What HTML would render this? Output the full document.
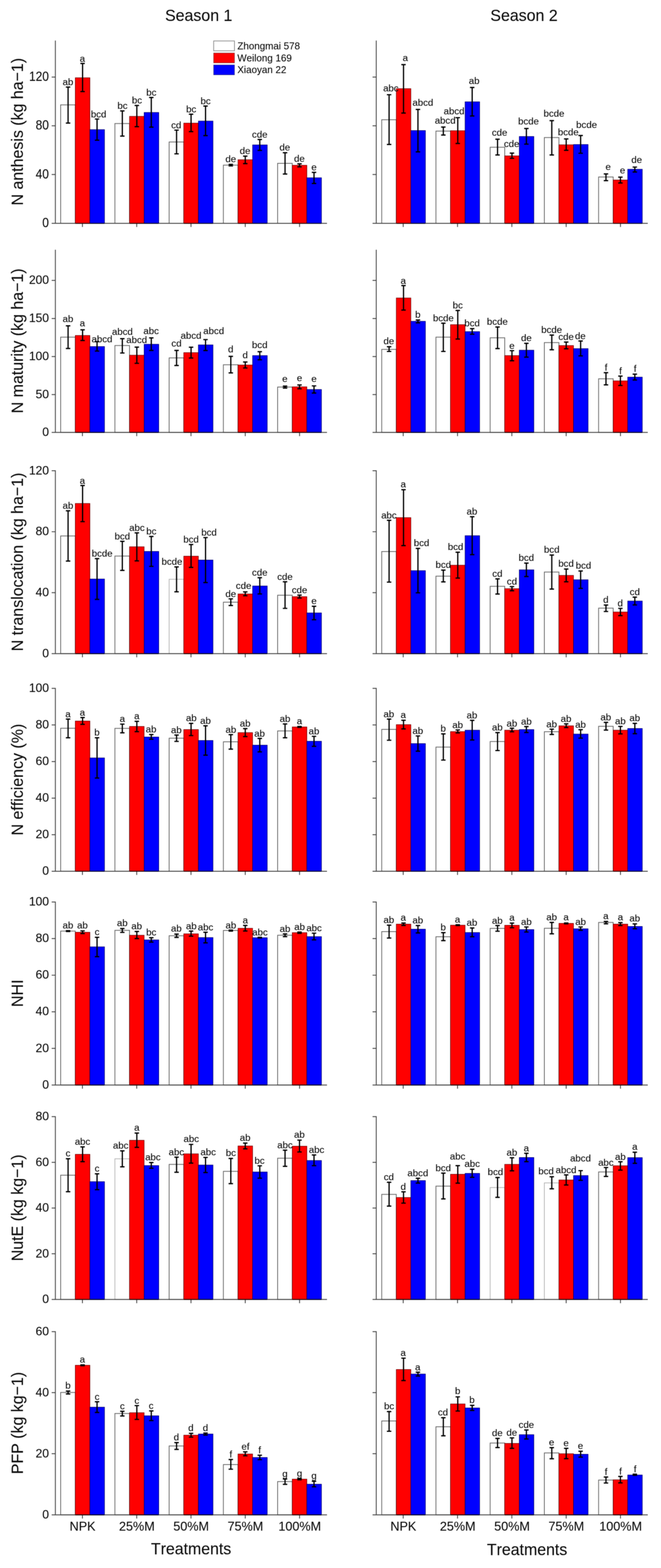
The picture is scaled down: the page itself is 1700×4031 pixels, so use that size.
<!DOCTYPE html>
<html lang="en"><head><meta charset="utf-8"><title>Figure</title>
<style>html,body{margin:0;padding:0;background:#fff}svg{display:block}text{font-variant-ligatures:none;font-kerning:none}</style></head>
<body>
<svg width="1700" height="4031" viewBox="0 0 1700 4031" font-family='"Liberation Sans", Arial, sans-serif' fill="#0c0c0c" stroke="#0c0c0c">
<defs><filter id="soft" x="0" y="0" width="1700" height="4031" filterUnits="userSpaceOnUse" color-interpolation-filters="sRGB"><feConvolveMatrix order="3" kernelMatrix="1 2 1 2 4 2 1 2 1" edgeMode="duplicate" preserveAlpha="true"/></filter></defs>
<g filter="url(#soft)">
<rect width="1700" height="4031" fill="#fff" stroke="none"/>
<g id="p00">
<rect x="156" y="269.6" width="37.6" height="304.5" fill="#ffffff" stroke="#606060" stroke-width="1.9"/>
<rect x="193.6" y="199.9" width="37.6" height="374.2" fill="#ff0000" stroke="#6a0000" stroke-width="1.3"/>
<rect x="231.2" y="333.2" width="37.6" height="240.9" fill="#0000ff" stroke="#00006a" stroke-width="1.3"/>
<rect x="295.5" y="317.6" width="37.6" height="256.5" fill="#ffffff" stroke="#606060" stroke-width="1.9"/>
<rect x="333.1" y="299.1" width="37.6" height="275" fill="#ff0000" stroke="#6a0000" stroke-width="1.3"/>
<rect x="370.7" y="289.1" width="37.6" height="285" fill="#0000ff" stroke="#00006a" stroke-width="1.3"/>
<rect x="435" y="365" width="37.6" height="209.1" fill="#ffffff" stroke="#606060" stroke-width="1.9"/>
<rect x="472.6" y="316.5" width="37.6" height="257.6" fill="#ff0000" stroke="#6a0000" stroke-width="1.3"/>
<rect x="510.2" y="311.2" width="37.6" height="262.9" fill="#0000ff" stroke="#00006a" stroke-width="1.3"/>
<rect x="574.5" y="424.5" width="37.6" height="149.6" fill="#ffffff" stroke="#606060" stroke-width="1.9"/>
<rect x="612.1" y="410.6" width="37.6" height="163.5" fill="#ff0000" stroke="#6a0000" stroke-width="1.3"/>
<rect x="649.7" y="372.5" width="37.6" height="201.6" fill="#0000ff" stroke="#00006a" stroke-width="1.3"/>
<rect x="714" y="419.9" width="37.6" height="154.2" fill="#ffffff" stroke="#606060" stroke-width="1.9"/>
<rect x="751.6" y="424.9" width="37.6" height="149.2" fill="#ff0000" stroke="#6a0000" stroke-width="1.3"/>
<rect x="789.2" y="457" width="37.6" height="117.1" fill="#0000ff" stroke="#00006a" stroke-width="1.3"/>
<path d="M175.1 223.8V316.3M169.4 223.8H180.8M169.4 316.3H180.8M212.4 163.1V235.4M206.7 163.1H218.1M206.7 235.4H218.1M249.6 306V360.4M243.9 306H255.3M243.9 360.4H255.3M314.6 285.1V349.8M308.9 285.1H320.3M308.9 349.8H320.3M351.9 271.2V325.6M346.2 271.2H357.6M346.2 325.6H357.6M389.1 250.7V326.9M383.4 250.7H394.8M383.4 326.9H394.8M454.1 334.5V395.5M448.4 334.5H459.8M448.4 395.5H459.8M491.4 293.6V338.3M485.7 293.6H497.1M485.7 338.3H497.1M528.6 272.7V348.6M522.9 272.7H534.3M522.9 348.6H534.3M593.6 422.5V426.5M587.9 422.5H599.3M587.9 426.5H599.3M630.8 401.3V420.6M625.1 401.3H636.5M625.1 420.6H636.5M668.1 358.6V386.7M662.4 358.6H673.8M662.4 386.7H673.8M733.1 392.7V447.4M727.4 392.7H738.8M727.4 447.4H738.8M770.3 421.2V428.8M764.6 421.2H776M764.6 428.8H776M807.6 443.1V471.6M801.9 443.1H813.3M801.9 471.6H813.3" stroke="#000" stroke-width="3.2" fill="none"/>
<text transform="translate(174.8 219.1)" font-size="24.7" text-anchor="middle" stroke-width="0.15">ab</text>
<text transform="translate(211.9 158.5)" font-size="24.7" text-anchor="middle" stroke-width="0.15">a</text>
<text transform="translate(253.7 301.7)" font-size="24.7" text-anchor="middle" stroke-width="0.15">bcd</text>
<text transform="translate(315 280.1)" font-size="24.7" text-anchor="middle" stroke-width="0.15">bc</text>
<text transform="translate(352.2 266.2)" font-size="24.7" text-anchor="middle" stroke-width="0.15">bc</text>
<text transform="translate(389.3 245.7)" font-size="24.7" text-anchor="middle" stroke-width="0.15">bc</text>
<text transform="translate(453.3 329.5)" font-size="24.7" text-anchor="middle" stroke-width="0.15">cd</text>
<text transform="translate(491.9 288.9)" font-size="24.7" text-anchor="middle" stroke-width="0.15">bc</text>
<text transform="translate(528.7 268)" font-size="24.7" text-anchor="middle" stroke-width="0.15">bc</text>
<text transform="translate(593.4 417.2)" font-size="24.7" text-anchor="middle" stroke-width="0.15">de</text>
<text transform="translate(630.2 396)" font-size="24.7" text-anchor="middle" stroke-width="0.15">de</text>
<text transform="translate(668 353.6)" font-size="24.7" text-anchor="middle" stroke-width="0.15">cde</text>
<text transform="translate(732.6 387)" font-size="24.7" text-anchor="middle" stroke-width="0.15">de</text>
<text transform="translate(770.1 415.5)" font-size="24.7" text-anchor="middle" stroke-width="0.15">de</text>
<text transform="translate(807.5 437.8)" font-size="24.7" text-anchor="middle" stroke-width="0.15">e</text>
<path d="M142.4 104.2V574.1M132.9 574.1H841M132.9 448.7H142.4M132.9 323.4H142.4M132.9 198.1H142.4M212 574.1v9.5M351.6 574.1v9.5M491.2 574.1v9.5M630.8 574.1v9.5M770.4 574.1v9.5" stroke="#424242" stroke-width="2.2" fill="none"/>
<path d="M193.6 574.1h37.6M333.1 574.1h37.6M472.6 574.1h37.6M612.1 574.1h37.6M751.6 574.1h37.6" stroke="#300000" stroke-width="2.2" fill="none"/>
<path d="M231.2 574.1h37.6M370.7 574.1h37.6M510.2 574.1h37.6M649.7 574.1h37.6M789.2 574.1h37.6" stroke="#000030" stroke-width="2.2" fill="none"/>
<text transform="translate(125.6 584.1) scale(1 1.14)" font-size="30.5" text-anchor="end" stroke-width="0.15">0</text>
<text transform="translate(125.6 458.7) scale(1 1.14)" font-size="30.5" text-anchor="end" stroke-width="0.15">40</text>
<text transform="translate(125.6 333.4) scale(1 1.14)" font-size="30.5" text-anchor="end" stroke-width="0.15">80</text>
<text transform="translate(125.6 208.1) scale(1 1.14)" font-size="30.5" text-anchor="end" stroke-width="0.15">120</text>
<text transform="translate(59.4 338.6) rotate(-90) scale(1 1.037)" font-size="41" text-anchor="middle" stroke-width="0.15">N anthesis (kg ha−1)</text>
</g>
<g id="p01">
<rect x="981.7" y="307.8" width="37.5" height="266.3" fill="#ffffff" stroke="#606060" stroke-width="1.9"/>
<rect x="1019.2" y="227.9" width="37.5" height="346.2" fill="#ff0000" stroke="#6a0000" stroke-width="1.3"/>
<rect x="1056.6" y="335.6" width="37.5" height="238.5" fill="#0000ff" stroke="#00006a" stroke-width="1.3"/>
<rect x="1121.2" y="337" width="37.5" height="237.1" fill="#ffffff" stroke="#606060" stroke-width="1.9"/>
<rect x="1158.6" y="336" width="37.5" height="238.1" fill="#ff0000" stroke="#6a0000" stroke-width="1.3"/>
<rect x="1196.1" y="261.7" width="37.5" height="312.4" fill="#0000ff" stroke="#00006a" stroke-width="1.3"/>
<rect x="1260.6" y="378.5" width="37.5" height="195.6" fill="#ffffff" stroke="#606060" stroke-width="1.9"/>
<rect x="1298" y="400.7" width="37.5" height="173.4" fill="#ff0000" stroke="#6a0000" stroke-width="1.3"/>
<rect x="1335.5" y="350.9" width="37.5" height="223.2" fill="#0000ff" stroke="#00006a" stroke-width="1.3"/>
<rect x="1400" y="353.6" width="37.5" height="220.5" fill="#ffffff" stroke="#606060" stroke-width="1.9"/>
<rect x="1437.5" y="372.2" width="37.5" height="201.9" fill="#ff0000" stroke="#6a0000" stroke-width="1.3"/>
<rect x="1475" y="371.5" width="37.5" height="202.6" fill="#0000ff" stroke="#00006a" stroke-width="1.3"/>
<rect x="1539.5" y="455" width="37.5" height="119.1" fill="#ffffff" stroke="#606060" stroke-width="1.9"/>
<rect x="1577" y="462.7" width="37.5" height="111.4" fill="#ff0000" stroke="#6a0000" stroke-width="1.3"/>
<rect x="1614.4" y="435.1" width="37.5" height="139" fill="#0000ff" stroke="#00006a" stroke-width="1.3"/>
<path d="M1000.7 243.5V371.4M995 243.5H1006.4M995 371.4H1006.4M1037.8 166.2V290.6M1032.1 166.2H1043.5M1032.1 290.6H1043.5M1074.9 281.3V390.3M1069.2 281.3H1080.6M1069.2 390.3H1080.6M1140.2 326.7V347.2M1134.5 326.7H1145.9M1134.5 347.2H1145.9M1177.3 302.5V368.8M1171.6 302.5H1183M1171.6 368.8H1183M1214.4 224.9V298.2M1208.7 224.9H1220.1M1208.7 298.2H1220.1M1279.6 357.9V398.3M1273.9 357.9H1285.3M1273.9 398.3H1285.3M1316.7 393.7V407M1311 393.7H1322.4M1311 407H1322.4M1353.8 330.4V370.5M1348.1 330.4H1359.5M1348.1 370.5H1359.5M1419.1 310.2V398.3M1413.4 310.2H1424.8M1413.4 398.3H1424.8M1456.2 357.2V386.4M1450.5 357.2H1461.9M1450.5 386.4H1461.9M1493.3 348.3V394M1487.6 348.3H1499M1487.6 394H1499M1558.5 447.1V464.3M1552.8 447.1H1564.2M1552.8 464.3H1564.2M1595.6 455.4V470.3M1589.9 455.4H1601.3M1589.9 470.3H1601.3M1632.7 429.5V442.1M1627 429.5H1638.4M1627 442.1H1638.4" stroke="#000" stroke-width="3.2" fill="none"/>
<text transform="translate(1005.3 234.5)" font-size="24.7" text-anchor="middle" stroke-width="0.15">abc</text>
<text transform="translate(1042.4 156.6)" font-size="24.7" text-anchor="middle" stroke-width="0.15">a</text>
<text transform="translate(1087.5 272)" font-size="24.7" text-anchor="middle" stroke-width="0.15">abcd</text>
<text transform="translate(1144.9 318.4)" font-size="24.7" text-anchor="middle" stroke-width="0.15">abcd</text>
<text transform="translate(1167.7 293.5)" font-size="24.7" text-anchor="middle" stroke-width="0.15">abcd</text>
<text transform="translate(1219.4 215.6)" font-size="24.7" text-anchor="middle" stroke-width="0.15">ab</text>
<text transform="translate(1284.8 348.9)" font-size="24.7" text-anchor="middle" stroke-width="0.15">cde</text>
<text transform="translate(1315.9 378.1)" font-size="24.7" text-anchor="middle" stroke-width="0.15">cde</text>
<text transform="translate(1359.3 320.4)" font-size="24.7" text-anchor="middle" stroke-width="0.15">bcde</text>
<text transform="translate(1424.8 300.2)" font-size="24.7" text-anchor="middle" stroke-width="0.15">bcde</text>
<text transform="translate(1461.5 347.9)" font-size="24.7" text-anchor="middle" stroke-width="0.15">bcde</text>
<text transform="translate(1508.6 329)" font-size="24.7" text-anchor="middle" stroke-width="0.15">bcde</text>
<text transform="translate(1564 437.1)" font-size="24.7" text-anchor="middle" stroke-width="0.15">e</text>
<text transform="translate(1601.1 446)" font-size="24.7" text-anchor="middle" stroke-width="0.15">e</text>
<text transform="translate(1637.6 419.2)" font-size="24.7" text-anchor="middle" stroke-width="0.15">de</text>
<path d="M967.7 104.2V574.1M958.2 574.1H1666M958.2 448.7H967.7M958.2 323.4H967.7M958.2 198.1H967.7M1037 574.1v9.5M1176.7 574.1v9.5M1316.4 574.1v9.5M1456.1 574.1v9.5M1595.8 574.1v9.5" stroke="#424242" stroke-width="2.2" fill="none"/>
<path d="M1019.2 574.1h37.5M1158.6 574.1h37.5M1298 574.1h37.5M1437.5 574.1h37.5M1577 574.1h37.5" stroke="#300000" stroke-width="2.2" fill="none"/>
<path d="M1056.6 574.1h37.5M1196.1 574.1h37.5M1335.5 574.1h37.5M1475 574.1h37.5M1614.4 574.1h37.5" stroke="#000030" stroke-width="2.2" fill="none"/>
</g>
<g id="p10">
<rect x="156" y="866.7" width="37.6" height="245" fill="#ffffff" stroke="#606060" stroke-width="1.9"/>
<rect x="193.6" y="862.4" width="37.6" height="249.3" fill="#ff0000" stroke="#6a0000" stroke-width="1.3"/>
<rect x="231.2" y="890.9" width="37.6" height="220.8" fill="#0000ff" stroke="#00006a" stroke-width="1.3"/>
<rect x="295.5" y="888.3" width="37.6" height="223.4" fill="#ffffff" stroke="#606060" stroke-width="1.9"/>
<rect x="333.1" y="913.1" width="37.6" height="198.6" fill="#ff0000" stroke="#6a0000" stroke-width="1.3"/>
<rect x="370.7" y="885" width="37.6" height="226.7" fill="#0000ff" stroke="#00006a" stroke-width="1.3"/>
<rect x="435" y="920.1" width="37.6" height="191.6" fill="#ffffff" stroke="#606060" stroke-width="1.9"/>
<rect x="472.6" y="906.5" width="37.6" height="205.2" fill="#ff0000" stroke="#6a0000" stroke-width="1.3"/>
<rect x="510.2" y="886.6" width="37.6" height="225.1" fill="#0000ff" stroke="#00006a" stroke-width="1.3"/>
<rect x="574.5" y="937.7" width="37.6" height="174" fill="#ffffff" stroke="#606060" stroke-width="1.9"/>
<rect x="612.1" y="938.3" width="37.6" height="173.4" fill="#ff0000" stroke="#6a0000" stroke-width="1.3"/>
<rect x="649.7" y="914.1" width="37.6" height="197.6" fill="#0000ff" stroke="#00006a" stroke-width="1.3"/>
<rect x="714" y="995" width="37.6" height="116.7" fill="#ffffff" stroke="#606060" stroke-width="1.9"/>
<rect x="751.6" y="994.4" width="37.6" height="117.3" fill="#ff0000" stroke="#6a0000" stroke-width="1.3"/>
<rect x="789.2" y="1001.3" width="37.6" height="110.4" fill="#0000ff" stroke="#00006a" stroke-width="1.3"/>
<path d="M175.1 837.6V895.9M169.4 837.6H180.8M169.4 895.9H180.8M212.4 847.8V875.4M206.7 847.8H218.1M206.7 875.4H218.1M249.6 878.3V902.5M243.9 878.3H255.3M243.9 902.5H255.3M314.6 870.7V907.5M308.9 870.7H320.3M308.9 907.5H320.3M351.9 892.3V934M346.2 892.3H357.6M346.2 934H357.6M389.1 868.7V900.9M383.4 868.7H394.8M383.4 900.9H394.8M454.1 900.9V939.7M448.4 900.9H459.8M448.4 939.7H459.8M491.4 892.6V920.4M485.7 892.6H497.1M485.7 920.4H497.1M528.6 873V901.2M522.9 873H534.3M522.9 901.2H534.3M593.6 916.1V958.6M587.9 916.1H599.3M587.9 958.6H599.3M630.8 930.7V946M625.1 930.7H636.5M625.1 946H636.5M668.1 904.2V924.8M662.4 904.2H673.8M662.4 924.8H673.8M733.1 992.7V997.7M727.4 992.7H738.8M727.4 997.7H738.8M770.3 989.7V999.3M764.6 989.7H776M764.6 999.3H776M807.6 992V1010.3M801.9 992H813.3M801.9 1010.3H813.3" stroke="#000" stroke-width="3.2" fill="none"/>
<text transform="translate(174.8 827.6)" font-size="24.7" text-anchor="middle" stroke-width="0.15">ab</text>
<text transform="translate(211.9 838.5)" font-size="24.7" text-anchor="middle" stroke-width="0.15">a</text>
<text transform="translate(262.3 879.6)" font-size="24.7" text-anchor="middle" stroke-width="0.15">abcd</text>
<text transform="translate(314.7 860.7)" font-size="24.7" text-anchor="middle" stroke-width="0.15">abcd</text>
<text transform="translate(351.5 882.3)" font-size="24.7" text-anchor="middle" stroke-width="0.15">abcd</text>
<text transform="translate(388.6 859.1)" font-size="24.7" text-anchor="middle" stroke-width="0.15">abc</text>
<text transform="translate(453.9 890.9)" font-size="24.7" text-anchor="middle" stroke-width="0.15">cd</text>
<text transform="translate(491.3 871.3)" font-size="24.7" text-anchor="middle" stroke-width="0.15">abcd</text>
<text transform="translate(549.6 858.8)" font-size="24.7" text-anchor="middle" stroke-width="0.15">abcd</text>
<text transform="translate(593.4 906.2)" font-size="24.7" text-anchor="middle" stroke-width="0.15">d</text>
<text transform="translate(630.5 920.7)" font-size="24.7" text-anchor="middle" stroke-width="0.15">d</text>
<text transform="translate(668 894.6)" font-size="24.7" text-anchor="middle" stroke-width="0.15">bcd</text>
<text transform="translate(732.6 982.1)" font-size="24.7" text-anchor="middle" stroke-width="0.15">e</text>
<text transform="translate(770.4 980.1)" font-size="24.7" text-anchor="middle" stroke-width="0.15">e</text>
<text transform="translate(807.5 982.1)" font-size="24.7" text-anchor="middle" stroke-width="0.15">e</text>
<path d="M142.4 642V1111.7M132.9 1111.7H841M132.9 1014.3H142.4M132.9 916.6H142.4M132.9 818.8H142.4M132.9 720.8H142.4M212 1111.7v9.5M351.6 1111.7v9.5M491.2 1111.7v9.5M630.8 1111.7v9.5M770.4 1111.7v9.5" stroke="#424242" stroke-width="2.2" fill="none"/>
<path d="M193.6 1111.7h37.6M333.1 1111.7h37.6M472.6 1111.7h37.6M612.1 1111.7h37.6M751.6 1111.7h37.6" stroke="#300000" stroke-width="2.2" fill="none"/>
<path d="M231.2 1111.7h37.6M370.7 1111.7h37.6M510.2 1111.7h37.6M649.7 1111.7h37.6M789.2 1111.7h37.6" stroke="#000030" stroke-width="2.2" fill="none"/>
<text transform="translate(126.1 1121) scale(1 0.995)" font-size="31" text-anchor="end" stroke-width="0.15">0</text>
<text transform="translate(126.1 1023.6) scale(1 0.995)" font-size="31" text-anchor="end" stroke-width="0.15">50</text>
<text transform="translate(126.1 925.9) scale(1 0.995)" font-size="31" text-anchor="end" stroke-width="0.15">100</text>
<text transform="translate(126.1 828.1) scale(1 0.995)" font-size="31" text-anchor="end" stroke-width="0.15">150</text>
<text transform="translate(126.1 730.1) scale(1 0.995)" font-size="31" text-anchor="end" stroke-width="0.15">200</text>
<text transform="translate(59.4 876.2) rotate(-90) scale(1 1.037)" font-size="41" text-anchor="middle" stroke-width="0.15">N maturity (kg ha−1)</text>
</g>
<g id="p11">
<rect x="981.7" y="898.2" width="37.5" height="213.5" fill="#ffffff" stroke="#606060" stroke-width="1.9"/>
<rect x="1019.2" y="766" width="37.5" height="345.7" fill="#ff0000" stroke="#6a0000" stroke-width="1.3"/>
<rect x="1056.6" y="826" width="37.5" height="285.7" fill="#0000ff" stroke="#00006a" stroke-width="1.3"/>
<rect x="1121.2" y="866.7" width="37.5" height="245" fill="#ffffff" stroke="#606060" stroke-width="1.9"/>
<rect x="1158.6" y="834.6" width="37.5" height="277.1" fill="#ff0000" stroke="#6a0000" stroke-width="1.3"/>
<rect x="1196.1" y="852.5" width="37.5" height="259.2" fill="#0000ff" stroke="#00006a" stroke-width="1.3"/>
<rect x="1260.6" y="868.4" width="37.5" height="243.3" fill="#ffffff" stroke="#606060" stroke-width="1.9"/>
<rect x="1298" y="914.1" width="37.5" height="197.6" fill="#ff0000" stroke="#6a0000" stroke-width="1.3"/>
<rect x="1335.5" y="900.2" width="37.5" height="211.5" fill="#0000ff" stroke="#00006a" stroke-width="1.3"/>
<rect x="1400" y="880.7" width="37.5" height="231" fill="#ffffff" stroke="#606060" stroke-width="1.9"/>
<rect x="1437.5" y="888.3" width="37.5" height="223.4" fill="#ff0000" stroke="#6a0000" stroke-width="1.3"/>
<rect x="1475" y="896.2" width="37.5" height="215.5" fill="#0000ff" stroke="#00006a" stroke-width="1.3"/>
<rect x="1539.5" y="973.8" width="37.5" height="137.9" fill="#ffffff" stroke="#606060" stroke-width="1.9"/>
<rect x="1577" y="979.1" width="37.5" height="132.6" fill="#ff0000" stroke="#6a0000" stroke-width="1.3"/>
<rect x="1614.4" y="969.5" width="37.5" height="142.2" fill="#0000ff" stroke="#00006a" stroke-width="1.3"/>
<path d="M1000.7 891.3V903.5M995 891.3H1006.4M995 903.5H1006.4M1037.8 734.1V797.1M1032.1 734.1H1043.5M1032.1 797.1H1043.5M1074.9 822.7V829.9M1069.2 822.7H1080.6M1069.2 829.9H1080.6M1140.2 830.9V903.5M1134.5 830.9H1145.9M1134.5 903.5H1145.9M1177.3 798.1V871.7M1171.6 798.1H1183M1171.6 871.7H1183M1214.4 844.9V859.1M1208.7 844.9H1220.1M1208.7 859.1H1220.1M1279.6 840.6V896.2M1273.9 840.6H1285.3M1273.9 896.2H1285.3M1316.7 901.5V927.4M1311 901.5H1322.4M1311 927.4H1322.4M1353.8 882.7V918.1M1348.1 882.7H1359.5M1348.1 918.1H1359.5M1419.1 861.4V899.2M1413.4 861.4H1424.8M1413.4 899.2H1424.8M1456.2 879.3V896.6M1450.5 879.3H1461.9M1450.5 896.6H1461.9M1493.3 876.7V914.8M1487.6 876.7H1499M1487.6 914.8H1499M1558.5 958.2V989.4M1552.8 958.2H1564.2M1552.8 989.4H1564.2M1595.6 966.9V991M1589.9 966.9H1601.3M1589.9 991H1601.3M1632.7 961.9V976.8M1627 961.9H1638.4M1627 976.8H1638.4" stroke="#000" stroke-width="3.2" fill="none"/>
<text transform="translate(1000 885.3)" font-size="24.7" text-anchor="middle" stroke-width="0.15">de</text>
<text transform="translate(1037.1 729.5)" font-size="24.7" text-anchor="middle" stroke-width="0.15">a</text>
<text transform="translate(1074.6 817)" font-size="24.7" text-anchor="middle" stroke-width="0.15">b</text>
<text transform="translate(1140.2 825.6)" font-size="24.7" text-anchor="middle" stroke-width="0.15">bcde</text>
<text transform="translate(1177.3 793.1)" font-size="24.7" text-anchor="middle" stroke-width="0.15">bc</text>
<text transform="translate(1214.1 838.9)" font-size="24.7" text-anchor="middle" stroke-width="0.15">bcd</text>
<text transform="translate(1279.1 835.2)" font-size="24.7" text-anchor="middle" stroke-width="0.15">bcde</text>
<text transform="translate(1316.6 896.5)" font-size="24.7" text-anchor="middle" stroke-width="0.15">e</text>
<text transform="translate(1353.7 877.3)" font-size="24.7" text-anchor="middle" stroke-width="0.15">de</text>
<text transform="translate(1418.7 856.4)" font-size="24.7" text-anchor="middle" stroke-width="0.15">bcde</text>
<text transform="translate(1455.8 874)" font-size="24.7" text-anchor="middle" stroke-width="0.15">cde</text>
<text transform="translate(1492.6 872.3)" font-size="24.7" text-anchor="middle" stroke-width="0.15">de</text>
<text transform="translate(1558.7 953.2)" font-size="24.7" text-anchor="middle" stroke-width="0.15">f</text>
<text transform="translate(1595.8 962.2)" font-size="24.7" text-anchor="middle" stroke-width="0.15">f</text>
<text transform="translate(1633.3 955.9)" font-size="24.7" text-anchor="middle" stroke-width="0.15">f</text>
<path d="M967.7 642V1111.7M958.2 1111.7H1666M958.2 1014.3H967.7M958.2 916.6H967.7M958.2 818.8H967.7M958.2 720.8H967.7M1037 1111.7v9.5M1176.7 1111.7v9.5M1316.4 1111.7v9.5M1456.1 1111.7v9.5M1595.8 1111.7v9.5" stroke="#424242" stroke-width="2.2" fill="none"/>
<path d="M1019.2 1111.7h37.5M1158.6 1111.7h37.5M1298 1111.7h37.5M1437.5 1111.7h37.5M1577 1111.7h37.5" stroke="#300000" stroke-width="2.2" fill="none"/>
<path d="M1056.6 1111.7h37.5M1196.1 1111.7h37.5M1335.5 1111.7h37.5M1475 1111.7h37.5M1614.4 1111.7h37.5" stroke="#000030" stroke-width="2.2" fill="none"/>
</g>
<g id="p20">
<rect x="156" y="1377.8" width="37.6" height="302.5" fill="#ffffff" stroke="#606060" stroke-width="1.9"/>
<rect x="193.6" y="1294.3" width="37.6" height="386" fill="#ff0000" stroke="#6a0000" stroke-width="1.3"/>
<rect x="231.2" y="1488.5" width="37.6" height="191.8" fill="#0000ff" stroke="#00006a" stroke-width="1.3"/>
<rect x="295.5" y="1429.5" width="37.6" height="250.8" fill="#ffffff" stroke="#606060" stroke-width="1.9"/>
<rect x="333.1" y="1405.6" width="37.6" height="274.7" fill="#ff0000" stroke="#6a0000" stroke-width="1.3"/>
<rect x="370.7" y="1417.6" width="37.6" height="262.7" fill="#0000ff" stroke="#00006a" stroke-width="1.3"/>
<rect x="435" y="1489.2" width="37.6" height="191.1" fill="#ffffff" stroke="#b4b4b4" stroke-width="1.9"/>
<rect x="472.6" y="1429.8" width="37.6" height="250.5" fill="#ff0000" stroke="#6a0000" stroke-width="1.3"/>
<rect x="510.2" y="1439.7" width="37.6" height="240.6" fill="#0000ff" stroke="#00006a" stroke-width="1.3"/>
<rect x="574.5" y="1548.1" width="37.6" height="132.2" fill="#ffffff" stroke="#606060" stroke-width="1.9"/>
<rect x="612.1" y="1526.9" width="37.6" height="153.4" fill="#ff0000" stroke="#6a0000" stroke-width="1.3"/>
<rect x="649.7" y="1506.4" width="37.6" height="173.9" fill="#0000ff" stroke="#00006a" stroke-width="1.3"/>
<rect x="714" y="1530.2" width="37.6" height="150.1" fill="#ffffff" stroke="#606060" stroke-width="1.9"/>
<rect x="751.6" y="1533.9" width="37.6" height="146.4" fill="#ff0000" stroke="#6a0000" stroke-width="1.3"/>
<rect x="789.2" y="1575.6" width="37.6" height="104.7" fill="#0000ff" stroke="#00006a" stroke-width="1.3"/>
<path d="M175.1 1313.1V1442.4M169.4 1313.1H180.8M169.4 1442.4H180.8M212.4 1248.2V1341M206.7 1248.2H218.1M206.7 1341H218.1M249.6 1436.1V1540.9M243.9 1436.1H255.3M243.9 1540.9H255.3M314.6 1391.7V1466.3M308.9 1391.7H320.3M308.9 1466.3H320.3M351.9 1369.8V1441.8M346.2 1369.8H357.6M346.2 1441.8H357.6M389.1 1379.1V1456M383.4 1379.1H394.8M383.4 1456H394.8M454.1 1457.3V1521.3M448.4 1457.3H459.8M448.4 1521.3H459.8M491.4 1399.9V1458.6M485.7 1399.9H497.1M485.7 1458.6H497.1M528.6 1382V1497.7M522.9 1382H534.3M522.9 1497.7H534.3M593.6 1539.5V1556.7M587.9 1539.5H599.3M587.9 1556.7H599.3M630.8 1521.6V1531.5M625.1 1521.6H636.5M625.1 1531.5H636.5M668.1 1485.1V1526.9M662.4 1485.1H673.8M662.4 1526.9H673.8M733.1 1495.7V1564M727.4 1495.7H738.8M727.4 1564H738.8M770.3 1529.9V1537.5M764.6 1529.9H776M764.6 1537.5H776M807.6 1558.7V1593.2M801.9 1558.7H813.3M801.9 1593.2H813.3" stroke="#000" stroke-width="3.2" fill="none"/>
<text transform="translate(174.8 1308.1)" font-size="24.7" text-anchor="middle" stroke-width="0.15">ab</text>
<text transform="translate(211.9 1243.5)" font-size="24.7" text-anchor="middle" stroke-width="0.15">a</text>
<text transform="translate(262.7 1431.1)" font-size="24.7" text-anchor="middle" stroke-width="0.15">bcde</text>
<text transform="translate(314.7 1386.7)" font-size="24.7" text-anchor="middle" stroke-width="0.15">bcd</text>
<text transform="translate(352.2 1365.2)" font-size="24.7" text-anchor="middle" stroke-width="0.15">abc</text>
<text transform="translate(389.3 1373.8)" font-size="24.7" text-anchor="middle" stroke-width="0.15">bc</text>
<text transform="translate(442.3 1452)" font-size="24.7" text-anchor="middle" stroke-width="0.15">bcde</text>
<text transform="translate(491.4 1394.9)" font-size="24.7" text-anchor="middle" stroke-width="0.15">bcd</text>
<text transform="translate(537.7 1377.4)" font-size="24.7" text-anchor="middle" stroke-width="0.15">bcd</text>
<text transform="translate(593.4 1534.5)" font-size="24.7" text-anchor="middle" stroke-width="0.15">de</text>
<text transform="translate(626.5 1514.3)" font-size="24.7" text-anchor="middle" stroke-width="0.15">cde</text>
<text transform="translate(668 1480.1)" font-size="24.7" text-anchor="middle" stroke-width="0.15">cde</text>
<text transform="translate(732.9 1491.1)" font-size="24.7" text-anchor="middle" stroke-width="0.15">cde</text>
<text transform="translate(770.4 1524.6)" font-size="24.7" text-anchor="middle" stroke-width="0.15">cde</text>
<text transform="translate(807.5 1553.1)" font-size="24.7" text-anchor="middle" stroke-width="0.15">e</text>
<path d="M142.4 1209.1V1680.3M132.9 1680.3H841M132.9 1523.7H142.4M132.9 1367H142.4M132.9 1210.2H142.4M212 1680.3v9.5M351.6 1680.3v9.5M491.2 1680.3v9.5M630.8 1680.3v9.5M770.4 1680.3v9.5" stroke="#424242" stroke-width="2.2" fill="none"/>
<path d="M193.6 1680.3h37.6M333.1 1680.3h37.6M472.6 1680.3h37.6M612.1 1680.3h37.6M751.6 1680.3h37.6" stroke="#300000" stroke-width="2.2" fill="none"/>
<path d="M231.2 1680.3h37.6M370.7 1680.3h37.6M510.2 1680.3h37.6M649.7 1680.3h37.6M789.2 1680.3h37.6" stroke="#000030" stroke-width="2.2" fill="none"/>
<text transform="translate(126.1 1689.6) scale(1 0.995)" font-size="31" text-anchor="end" stroke-width="0.15">0</text>
<text transform="translate(126.1 1533) scale(1 0.995)" font-size="31" text-anchor="end" stroke-width="0.15">40</text>
<text transform="translate(126.1 1376.3) scale(1 0.995)" font-size="31" text-anchor="end" stroke-width="0.15">80</text>
<text transform="translate(126.1 1219.5) scale(1 0.995)" font-size="31" text-anchor="end" stroke-width="0.15">120</text>
<text transform="translate(59.4 1444.7) rotate(-90) scale(1 1.037)" font-size="41" text-anchor="middle" stroke-width="0.15">N translocation (kg ha−1)</text>
</g>
<g id="p21">
<rect x="981.7" y="1417.9" width="37.5" height="262.4" fill="#ffffff" stroke="#606060" stroke-width="1.9"/>
<rect x="1019.2" y="1330.7" width="37.5" height="349.6" fill="#ff0000" stroke="#6a0000" stroke-width="1.3"/>
<rect x="1056.6" y="1467" width="37.5" height="213.3" fill="#0000ff" stroke="#00006a" stroke-width="1.3"/>
<rect x="1121.2" y="1481.2" width="37.5" height="199.1" fill="#ffffff" stroke="#606060" stroke-width="1.9"/>
<rect x="1158.6" y="1453" width="37.5" height="227.3" fill="#ff0000" stroke="#6a0000" stroke-width="1.3"/>
<rect x="1196.1" y="1377.1" width="37.5" height="303.2" fill="#0000ff" stroke="#00006a" stroke-width="1.3"/>
<rect x="1260.6" y="1507.3" width="37.5" height="173" fill="#ffffff" stroke="#606060" stroke-width="1.9"/>
<rect x="1298" y="1513.3" width="37.5" height="167" fill="#ff0000" stroke="#6a0000" stroke-width="1.3"/>
<rect x="1335.5" y="1464.9" width="37.5" height="215.4" fill="#0000ff" stroke="#00006a" stroke-width="1.3"/>
<rect x="1400" y="1470.6" width="37.5" height="209.7" fill="#ffffff" stroke="#606060" stroke-width="1.9"/>
<rect x="1437.5" y="1479.2" width="37.5" height="201.1" fill="#ff0000" stroke="#6a0000" stroke-width="1.3"/>
<rect x="1475" y="1490.4" width="37.5" height="189.9" fill="#0000ff" stroke="#00006a" stroke-width="1.3"/>
<rect x="1539.5" y="1563.4" width="37.5" height="116.9" fill="#ffffff" stroke="#606060" stroke-width="1.9"/>
<rect x="1577" y="1573.3" width="37.5" height="107" fill="#ff0000" stroke="#6a0000" stroke-width="1.3"/>
<rect x="1614.4" y="1545.1" width="37.5" height="135.2" fill="#0000ff" stroke="#00006a" stroke-width="1.3"/>
<path d="M1000.7 1337.7V1496.5M995 1337.7H1006.4M995 1496.5H1006.4M1037.8 1258.8V1402.7M1032.1 1258.8H1043.5M1032.1 1402.7H1043.5M1074.9 1409.9V1524M1069.2 1409.9H1080.6M1069.2 1524H1080.6M1140.2 1465.6V1495.8M1134.5 1465.6H1145.9M1134.5 1495.8H1145.9M1177.3 1419.6V1486.2M1171.6 1419.6H1183M1171.6 1486.2H1183M1214.4 1328.4V1425.9M1208.7 1328.4H1220.1M1208.7 1425.9H1220.1M1279.6 1488.1V1527.2M1273.9 1488.1H1285.3M1273.9 1527.2H1285.3M1316.7 1508V1518.6M1311 1508H1322.4M1311 1518.6H1322.4M1353.8 1447.7V1482.2M1348.1 1447.7H1359.5M1348.1 1482.2H1359.5M1419.1 1426.8V1514.3M1413.4 1426.8H1424.8M1413.4 1514.3H1424.8M1456.2 1462.9V1495.7M1450.5 1462.9H1461.9M1450.5 1495.7H1461.9M1493.3 1467.9V1512.7M1487.6 1467.9H1499M1487.6 1512.7H1499M1558.5 1555.4V1572M1552.8 1555.4H1564.2M1552.8 1572H1564.2M1595.6 1564V1582.6M1589.9 1564H1601.3M1589.9 1582.6H1601.3M1632.7 1535.2V1555.1M1627 1535.2H1638.4M1627 1555.1H1638.4" stroke="#000" stroke-width="3.2" fill="none"/>
<text transform="translate(1000.3 1332.7)" font-size="24.7" text-anchor="middle" stroke-width="0.15">abc</text>
<text transform="translate(1037.1 1253.4)" font-size="24.7" text-anchor="middle" stroke-width="0.15">a</text>
<text transform="translate(1084.2 1404.3)" font-size="24.7" text-anchor="middle" stroke-width="0.15">bcd</text>
<text transform="translate(1140.2 1460)" font-size="24.7" text-anchor="middle" stroke-width="0.15">bcd</text>
<text transform="translate(1171.7 1413.6)" font-size="24.7" text-anchor="middle" stroke-width="0.15">bcd</text>
<text transform="translate(1213.8 1323.4)" font-size="24.7" text-anchor="middle" stroke-width="0.15">ab</text>
<text transform="translate(1279.1 1482.8)" font-size="24.7" text-anchor="middle" stroke-width="0.15">cd</text>
<text transform="translate(1316.6 1502.7)" font-size="24.7" text-anchor="middle" stroke-width="0.15">cd</text>
<text transform="translate(1353.7 1442)" font-size="24.7" text-anchor="middle" stroke-width="0.15">bcd</text>
<text transform="translate(1419 1420.8)" font-size="24.7" text-anchor="middle" stroke-width="0.15">bcd</text>
<text transform="translate(1455.8 1457.3)" font-size="24.7" text-anchor="middle" stroke-width="0.15">bcd</text>
<text transform="translate(1500.6 1462.2)" font-size="24.7" text-anchor="middle" stroke-width="0.15">bcd</text>
<text transform="translate(1558 1549.7)" font-size="24.7" text-anchor="middle" stroke-width="0.15">d</text>
<text transform="translate(1595.1 1559)" font-size="24.7" text-anchor="middle" stroke-width="0.15">d</text>
<text transform="translate(1632.6 1530.2)" font-size="24.7" text-anchor="middle" stroke-width="0.15">cd</text>
<path d="M967.7 1209.1V1680.3M958.2 1680.3H1666M958.2 1523.7H967.7M958.2 1367H967.7M958.2 1210.2H967.7M1037 1680.3v9.5M1176.7 1680.3v9.5M1316.4 1680.3v9.5M1456.1 1680.3v9.5M1595.8 1680.3v9.5" stroke="#424242" stroke-width="2.2" fill="none"/>
<path d="M1019.2 1680.3h37.5M1158.6 1680.3h37.5M1298 1680.3h37.5M1437.5 1680.3h37.5M1577 1680.3h37.5" stroke="#300000" stroke-width="2.2" fill="none"/>
<path d="M1056.6 1680.3h37.5M1196.1 1680.3h37.5M1335.5 1680.3h37.5M1475 1680.3h37.5M1614.4 1680.3h37.5" stroke="#000030" stroke-width="2.2" fill="none"/>
</g>
<g id="p30">
<rect x="156" y="1872.2" width="37.6" height="367.6" fill="#ffffff" stroke="#606060" stroke-width="1.9"/>
<rect x="193.6" y="1853.6" width="37.6" height="386.2" fill="#ff0000" stroke="#6a0000" stroke-width="1.3"/>
<rect x="231.2" y="1948.4" width="37.6" height="291.4" fill="#0000ff" stroke="#00006a" stroke-width="1.3"/>
<rect x="295.5" y="1872.5" width="37.6" height="367.3" fill="#ffffff" stroke="#606060" stroke-width="1.9"/>
<rect x="333.1" y="1867.5" width="37.6" height="372.3" fill="#ff0000" stroke="#6a0000" stroke-width="1.3"/>
<rect x="370.7" y="1894.7" width="37.6" height="345.1" fill="#0000ff" stroke="#00006a" stroke-width="1.3"/>
<rect x="435" y="1897.7" width="37.6" height="342.1" fill="#ffffff" stroke="#606060" stroke-width="1.9"/>
<rect x="472.6" y="1875.5" width="37.6" height="364.3" fill="#ff0000" stroke="#6a0000" stroke-width="1.3"/>
<rect x="510.2" y="1903.6" width="37.6" height="336.2" fill="#0000ff" stroke="#00006a" stroke-width="1.3"/>
<rect x="574.5" y="1907" width="37.6" height="332.8" fill="#ffffff" stroke="#606060" stroke-width="1.9"/>
<rect x="612.1" y="1883.4" width="37.6" height="356.4" fill="#ff0000" stroke="#6a0000" stroke-width="1.3"/>
<rect x="649.7" y="1915.6" width="37.6" height="324.2" fill="#0000ff" stroke="#00006a" stroke-width="1.3"/>
<rect x="714" y="1879.1" width="37.6" height="360.7" fill="#ffffff" stroke="#606060" stroke-width="1.9"/>
<rect x="751.6" y="1868.8" width="37.6" height="371" fill="#ff0000" stroke="#6a0000" stroke-width="1.3"/>
<rect x="789.2" y="1905.6" width="37.6" height="334.2" fill="#0000ff" stroke="#00006a" stroke-width="1.3"/>
<path d="M175.1 1848.6V1896.7M169.4 1848.6H180.8M169.4 1896.7H180.8M212.4 1844.6V1862.2M206.7 1844.6H218.1M206.7 1862.2H218.1M249.6 1896.7V2000.1M243.9 1896.7H255.3M243.9 2000.1H255.3M314.6 1861.5V1883.8M308.9 1861.5H320.3M308.9 1883.8H320.3M351.9 1854.3V1880.8M346.2 1854.3H357.6M346.2 1880.8H357.6M389.1 1888.4V1900.3M383.4 1888.4H394.8M383.4 1900.3H394.8M454.1 1889.7V1906M448.4 1889.7H459.8M448.4 1906H459.8M491.4 1859.6V1891M485.7 1859.6H497.1M485.7 1891H497.1M528.6 1865.9V1941.4M522.9 1865.9H534.3M522.9 1941.4H534.3M593.6 1888.7V1925.9M587.9 1888.7H599.3M587.9 1925.9H599.3M630.8 1873.1V1893.7M625.1 1873.1H636.5M625.1 1893.7H636.5M668.1 1898.3V1932.8M662.4 1898.3H673.8M662.4 1932.8H673.8M733.1 1861.2V1896.7M727.4 1861.2H738.8M727.4 1896.7H738.8M770.3 1867.5V1869.8M764.6 1867.5H776M764.6 1869.8H776M807.6 1893V1918.6M801.9 1893H813.3M801.9 1918.6H813.3" stroke="#000" stroke-width="3.2" fill="none"/>
<text transform="translate(174.8 1843.9)" font-size="24.7" text-anchor="middle" stroke-width="0.15">a</text>
<text transform="translate(211.9 1840)" font-size="24.7" text-anchor="middle" stroke-width="0.15">a</text>
<text transform="translate(249.4 1891.3)" font-size="24.7" text-anchor="middle" stroke-width="0.15">b</text>
<text transform="translate(314.7 1856.2)" font-size="24.7" text-anchor="middle" stroke-width="0.15">a</text>
<text transform="translate(351.8 1848.9)" font-size="24.7" text-anchor="middle" stroke-width="0.15">a</text>
<text transform="translate(388.6 1883.1)" font-size="24.7" text-anchor="middle" stroke-width="0.15">ab</text>
<text transform="translate(453.6 1884.7)" font-size="24.7" text-anchor="middle" stroke-width="0.15">ab</text>
<text transform="translate(491.9 1853.9)" font-size="24.7" text-anchor="middle" stroke-width="0.15">ab</text>
<text transform="translate(528.4 1860.9)" font-size="24.7" text-anchor="middle" stroke-width="0.15">ab</text>
<text transform="translate(593.7 1883.7)" font-size="24.7" text-anchor="middle" stroke-width="0.15">ab</text>
<text transform="translate(630.5 1867.8)" font-size="24.7" text-anchor="middle" stroke-width="0.15">ab</text>
<text transform="translate(667.6 1893.7)" font-size="24.7" text-anchor="middle" stroke-width="0.15">ab</text>
<text transform="translate(732.9 1856.2)" font-size="24.7" text-anchor="middle" stroke-width="0.15">ab</text>
<text transform="translate(770.1 1862.2)" font-size="24.7" text-anchor="middle" stroke-width="0.15">a</text>
<text transform="translate(807.5 1887.7)" font-size="24.7" text-anchor="middle" stroke-width="0.15">ab</text>
<path d="M142.4 1768.6V2239.8M132.9 2239.8H841M132.9 2145.8H142.4M132.9 2051.8H142.4M132.9 1957.8H142.4M132.9 1863.7H142.4M132.9 1769.7H142.4M212 2239.8v9.5M351.6 2239.8v9.5M491.2 2239.8v9.5M630.8 2239.8v9.5M770.4 2239.8v9.5" stroke="#424242" stroke-width="2.2" fill="none"/>
<path d="M193.6 2239.8h37.6M333.1 2239.8h37.6M472.6 2239.8h37.6M612.1 2239.8h37.6M751.6 2239.8h37.6" stroke="#300000" stroke-width="2.2" fill="none"/>
<path d="M231.2 2239.8h37.6M370.7 2239.8h37.6M510.2 2239.8h37.6M649.7 2239.8h37.6M789.2 2239.8h37.6" stroke="#000030" stroke-width="2.2" fill="none"/>
<text transform="translate(126.1 2249.1) scale(1 0.995)" font-size="31" text-anchor="end" stroke-width="0.15">0</text>
<text transform="translate(126.1 2155.1) scale(1 0.995)" font-size="31" text-anchor="end" stroke-width="0.15">20</text>
<text transform="translate(126.1 2061.1) scale(1 0.995)" font-size="31" text-anchor="end" stroke-width="0.15">40</text>
<text transform="translate(126.1 1967.1) scale(1 0.995)" font-size="31" text-anchor="end" stroke-width="0.15">60</text>
<text transform="translate(126.1 1873) scale(1 0.995)" font-size="31" text-anchor="end" stroke-width="0.15">80</text>
<text transform="translate(126.1 1779) scale(1 0.995)" font-size="31" text-anchor="end" stroke-width="0.15">100</text>
<text transform="translate(59.4 2004.2) rotate(-90) scale(1 1.037)" font-size="41" text-anchor="middle" stroke-width="0.15">N efficiency (%)</text>
</g>
<g id="p31">
<rect x="981.7" y="1875.1" width="37.5" height="364.7" fill="#ffffff" stroke="#606060" stroke-width="1.9"/>
<rect x="1019.2" y="1862.9" width="37.5" height="376.9" fill="#ff0000" stroke="#6a0000" stroke-width="1.3"/>
<rect x="1056.6" y="1911.6" width="37.5" height="328.2" fill="#0000ff" stroke="#00006a" stroke-width="1.3"/>
<rect x="1121.2" y="1920.6" width="37.5" height="319.2" fill="#ffffff" stroke="#606060" stroke-width="1.9"/>
<rect x="1158.6" y="1880.8" width="37.5" height="359" fill="#ff0000" stroke="#6a0000" stroke-width="1.3"/>
<rect x="1196.1" y="1877.1" width="37.5" height="362.7" fill="#0000ff" stroke="#00006a" stroke-width="1.3"/>
<rect x="1260.6" y="1906.3" width="37.5" height="333.5" fill="#ffffff" stroke="#606060" stroke-width="1.9"/>
<rect x="1298" y="1877.1" width="37.5" height="362.7" fill="#ff0000" stroke="#6a0000" stroke-width="1.3"/>
<rect x="1335.5" y="1875.5" width="37.5" height="364.3" fill="#0000ff" stroke="#00006a" stroke-width="1.3"/>
<rect x="1400" y="1881.1" width="37.5" height="358.7" fill="#ffffff" stroke="#606060" stroke-width="1.9"/>
<rect x="1437.5" y="1865.9" width="37.5" height="373.9" fill="#ff0000" stroke="#6a0000" stroke-width="1.3"/>
<rect x="1475" y="1887.1" width="37.5" height="352.7" fill="#0000ff" stroke="#00006a" stroke-width="1.3"/>
<rect x="1539.5" y="1867.2" width="37.5" height="372.6" fill="#ffffff" stroke="#606060" stroke-width="1.9"/>
<rect x="1577" y="1877.1" width="37.5" height="362.7" fill="#ff0000" stroke="#6a0000" stroke-width="1.3"/>
<rect x="1614.4" y="1872.8" width="37.5" height="367" fill="#0000ff" stroke="#00006a" stroke-width="1.3"/>
<path d="M1000.7 1848.6V1903M995 1848.6H1006.4M995 1903H1006.4M1037.8 1851.6V1873.8M1032.1 1851.6H1043.5M1032.1 1873.8H1043.5M1074.9 1892V1931.2M1069.2 1892H1080.6M1069.2 1931.2H1080.6M1140.2 1886.7V1954M1134.5 1886.7H1145.9M1134.5 1954H1145.9M1177.3 1876.5V1884.1M1171.6 1876.5H1183M1171.6 1884.1H1183M1214.4 1851.9V1902.3M1208.7 1851.9H1220.1M1208.7 1902.3H1220.1M1279.6 1883.4V1929.5M1273.9 1883.4H1285.3M1273.9 1929.5H1285.3M1316.7 1872.2V1881.1M1311 1872.2H1322.4M1311 1881.1H1322.4M1353.8 1867.8V1883.1M1348.1 1867.8H1359.5M1348.1 1883.1H1359.5M1419.1 1874.5V1888.1M1413.4 1874.5H1424.8M1413.4 1888.1H1424.8M1456.2 1860.9V1870.5M1450.5 1860.9H1461.9M1450.5 1870.5H1461.9M1493.3 1875.8V1897.7M1487.6 1875.8H1499M1487.6 1897.7H1499M1558.5 1857.2V1876.8M1552.8 1857.2H1564.2M1552.8 1876.8H1564.2M1595.6 1867.5V1886.7M1589.9 1867.5H1601.3M1589.9 1886.7H1601.3M1632.7 1859.6V1886.1M1627 1859.6H1638.4M1627 1886.1H1638.4" stroke="#000" stroke-width="3.2" fill="none"/>
<text transform="translate(1000 1843.6)" font-size="24.7" text-anchor="middle" stroke-width="0.15">ab</text>
<text transform="translate(1037.1 1845.9)" font-size="24.7" text-anchor="middle" stroke-width="0.15">a</text>
<text transform="translate(1074.6 1887.4)" font-size="24.7" text-anchor="middle" stroke-width="0.15">ab</text>
<text transform="translate(1139.9 1881.4)" font-size="24.7" text-anchor="middle" stroke-width="0.15">b</text>
<text transform="translate(1177 1871.5)" font-size="24.7" text-anchor="middle" stroke-width="0.15">ab</text>
<text transform="translate(1213.8 1846.9)" font-size="24.7" text-anchor="middle" stroke-width="0.15">ab</text>
<text transform="translate(1279.1 1878.1)" font-size="24.7" text-anchor="middle" stroke-width="0.15">ab</text>
<text transform="translate(1316.6 1867.5)" font-size="24.7" text-anchor="middle" stroke-width="0.15">ab</text>
<text transform="translate(1353.7 1862.5)" font-size="24.7" text-anchor="middle" stroke-width="0.15">ab</text>
<text transform="translate(1418.7 1869.5)" font-size="24.7" text-anchor="middle" stroke-width="0.15">ab</text>
<text transform="translate(1455.8 1855.9)" font-size="24.7" text-anchor="middle" stroke-width="0.15">ab</text>
<text transform="translate(1492.9 1870.8)" font-size="24.7" text-anchor="middle" stroke-width="0.15">ab</text>
<text transform="translate(1558 1852.2)" font-size="24.7" text-anchor="middle" stroke-width="0.15">ab</text>
<text transform="translate(1595.5 1862.2)" font-size="24.7" text-anchor="middle" stroke-width="0.15">ab</text>
<text transform="translate(1632.6 1853.9)" font-size="24.7" text-anchor="middle" stroke-width="0.15">ab</text>
<path d="M967.7 1768.6V2239.8M958.2 2239.8H1666M958.2 2145.8H967.7M958.2 2051.8H967.7M958.2 1957.8H967.7M958.2 1863.7H967.7M958.2 1769.7H967.7M1037 2239.8v9.5M1176.7 2239.8v9.5M1316.4 2239.8v9.5M1456.1 2239.8v9.5M1595.8 2239.8v9.5" stroke="#424242" stroke-width="2.2" fill="none"/>
<path d="M1019.2 2239.8h37.5M1158.6 2239.8h37.5M1298 2239.8h37.5M1437.5 2239.8h37.5M1577 2239.8h37.5" stroke="#300000" stroke-width="2.2" fill="none"/>
<path d="M1056.6 2239.8h37.5M1196.1 2239.8h37.5M1335.5 2239.8h37.5M1475 2239.8h37.5M1614.4 2239.8h37.5" stroke="#000030" stroke-width="2.2" fill="none"/>
</g>
<g id="p40">
<rect x="156" y="2393.6" width="37.6" height="395.7" fill="#ffffff" stroke="#606060" stroke-width="1.9"/>
<rect x="193.6" y="2396.6" width="37.6" height="392.7" fill="#ff0000" stroke="#6a0000" stroke-width="1.3"/>
<rect x="231.2" y="2434.1" width="37.6" height="355.2" fill="#0000ff" stroke="#00006a" stroke-width="1.3"/>
<rect x="295.5" y="2391.7" width="37.6" height="397.6" fill="#ffffff" stroke="#606060" stroke-width="1.9"/>
<rect x="333.1" y="2404.3" width="37.6" height="385" fill="#ff0000" stroke="#6a0000" stroke-width="1.3"/>
<rect x="370.7" y="2416.2" width="37.6" height="373.1" fill="#0000ff" stroke="#00006a" stroke-width="1.3"/>
<rect x="435" y="2405.6" width="37.6" height="383.7" fill="#ffffff" stroke="#606060" stroke-width="1.9"/>
<rect x="472.6" y="2400.6" width="37.6" height="388.7" fill="#ff0000" stroke="#6a0000" stroke-width="1.3"/>
<rect x="510.2" y="2410.2" width="37.6" height="379.1" fill="#0000ff" stroke="#00006a" stroke-width="1.3"/>
<rect x="574.5" y="2392" width="37.6" height="397.3" fill="#ffffff" stroke="#606060" stroke-width="1.9"/>
<rect x="612.1" y="2386.4" width="37.6" height="402.9" fill="#ff0000" stroke="#6a0000" stroke-width="1.3"/>
<rect x="649.7" y="2410.6" width="37.6" height="378.7" fill="#0000ff" stroke="#00006a" stroke-width="1.3"/>
<rect x="714" y="2404.3" width="37.6" height="385" fill="#ffffff" stroke="#606060" stroke-width="1.9"/>
<rect x="751.6" y="2397.6" width="37.6" height="391.7" fill="#ff0000" stroke="#6a0000" stroke-width="1.3"/>
<rect x="789.2" y="2407.9" width="37.6" height="381.4" fill="#0000ff" stroke="#00006a" stroke-width="1.3"/>
<path d="M175.1 2392.7V2394.6M169.4 2392.7H180.8M169.4 2394.6H180.8M212.4 2393V2399.9M206.7 2393H218.1M206.7 2399.9H218.1M249.6 2409.6V2459.3M243.9 2409.6H255.3M243.9 2459.3H255.3M314.6 2387V2397M308.9 2387H320.3M308.9 2397H320.3M351.9 2394.6V2412.9M346.2 2394.6H357.6M346.2 2412.9H357.6M389.1 2410.6V2421.8M383.4 2410.6H394.8M383.4 2421.8H394.8M454.1 2401.3V2409.9M448.4 2401.3H459.8M448.4 2409.9H459.8M491.4 2393.6V2406.6M485.7 2393.6H497.1M485.7 2406.6H497.1M528.6 2396.6V2423.8M522.9 2396.6H534.3M522.9 2423.8H534.3M593.6 2391V2393.6M587.9 2391H599.3M587.9 2393.6H599.3M630.8 2379.1V2393.3M625.1 2379.1H636.5M625.1 2393.3H636.5M668.1 2409.6V2411.5M662.4 2409.6H673.8M662.4 2411.5H673.8M733.1 2400.9V2407.9M727.4 2400.9H738.8M727.4 2407.9H738.8M770.3 2396V2399.3M764.6 2396H776M764.6 2399.3H776M807.6 2399V2416.2M801.9 2399H813.3M801.9 2416.2H813.3" stroke="#000" stroke-width="3.2" fill="none"/>
<text transform="translate(174.8 2387.3)" font-size="24.7" text-anchor="middle" stroke-width="0.15">ab</text>
<text transform="translate(211.9 2387.3)" font-size="24.7" text-anchor="middle" stroke-width="0.15">ab</text>
<text transform="translate(249.7 2403.6)" font-size="24.7" text-anchor="middle" stroke-width="0.15">c</text>
<text transform="translate(314.4 2380.7)" font-size="24.7" text-anchor="middle" stroke-width="0.15">ab</text>
<text transform="translate(351.5 2389)" font-size="24.7" text-anchor="middle" stroke-width="0.15">ab</text>
<text transform="translate(389 2404.6)" font-size="24.7" text-anchor="middle" stroke-width="0.15">bc</text>
<text transform="translate(453.6 2395.3)" font-size="24.7" text-anchor="middle" stroke-width="0.15">ab</text>
<text transform="translate(491.9 2389.3)" font-size="24.7" text-anchor="middle" stroke-width="0.15">ab</text>
<text transform="translate(528.7 2391.6)" font-size="24.7" text-anchor="middle" stroke-width="0.15">abc</text>
<text transform="translate(593.7 2386.7)" font-size="24.7" text-anchor="middle" stroke-width="0.15">ab</text>
<text transform="translate(630.8 2374.1)" font-size="24.7" text-anchor="middle" stroke-width="0.15">a</text>
<text transform="translate(668.6 2404.9)" font-size="24.7" text-anchor="middle" stroke-width="0.15">abc</text>
<text transform="translate(732.9 2395.6)" font-size="24.7" text-anchor="middle" stroke-width="0.15">ab</text>
<text transform="translate(770.4 2390.6)" font-size="24.7" text-anchor="middle" stroke-width="0.15">ab</text>
<text transform="translate(807.8 2394.3)" font-size="24.7" text-anchor="middle" stroke-width="0.15">abc</text>
<path d="M142.4 2317.7V2789.3M132.9 2789.3H841M132.9 2695.2H142.4M132.9 2601.1H142.4M132.9 2507H142.4M132.9 2412.9H142.4M132.9 2318.8H142.4M212 2789.3v9.5M351.6 2789.3v9.5M491.2 2789.3v9.5M630.8 2789.3v9.5M770.4 2789.3v9.5" stroke="#424242" stroke-width="2.2" fill="none"/>
<path d="M193.6 2789.3h37.6M333.1 2789.3h37.6M472.6 2789.3h37.6M612.1 2789.3h37.6M751.6 2789.3h37.6" stroke="#300000" stroke-width="2.2" fill="none"/>
<path d="M231.2 2789.3h37.6M370.7 2789.3h37.6M510.2 2789.3h37.6M649.7 2789.3h37.6M789.2 2789.3h37.6" stroke="#000030" stroke-width="2.2" fill="none"/>
<text transform="translate(126.1 2798.6) scale(1 0.995)" font-size="31" text-anchor="end" stroke-width="0.15">0</text>
<text transform="translate(126.1 2704.5) scale(1 0.995)" font-size="31" text-anchor="end" stroke-width="0.15">20</text>
<text transform="translate(126.1 2610.4) scale(1 0.995)" font-size="31" text-anchor="end" stroke-width="0.15">40</text>
<text transform="translate(126.1 2516.3) scale(1 0.995)" font-size="31" text-anchor="end" stroke-width="0.15">60</text>
<text transform="translate(126.1 2422.2) scale(1 0.995)" font-size="31" text-anchor="end" stroke-width="0.15">80</text>
<text transform="translate(126.1 2328.1) scale(1 0.995)" font-size="31" text-anchor="end" stroke-width="0.15">100</text>
<text transform="translate(59.4 2553.5) rotate(-90) scale(1 1.037)" font-size="41" text-anchor="middle" stroke-width="0.15">NHI</text>
</g>
<g id="p41">
<rect x="981.7" y="2395" width="37.5" height="394.3" fill="#ffffff" stroke="#606060" stroke-width="1.9"/>
<rect x="1019.2" y="2375.7" width="37.5" height="413.6" fill="#ff0000" stroke="#6a0000" stroke-width="1.3"/>
<rect x="1056.6" y="2388.7" width="37.5" height="400.6" fill="#0000ff" stroke="#00006a" stroke-width="1.3"/>
<rect x="1121.2" y="2408.2" width="37.5" height="381.1" fill="#ffffff" stroke="#606060" stroke-width="1.9"/>
<rect x="1158.6" y="2378.4" width="37.5" height="410.9" fill="#ff0000" stroke="#6a0000" stroke-width="1.3"/>
<rect x="1196.1" y="2397.3" width="37.5" height="392" fill="#0000ff" stroke="#00006a" stroke-width="1.3"/>
<rect x="1260.6" y="2386.7" width="37.5" height="402.6" fill="#ffffff" stroke="#606060" stroke-width="1.9"/>
<rect x="1298" y="2378.7" width="37.5" height="410.6" fill="#ff0000" stroke="#6a0000" stroke-width="1.3"/>
<rect x="1335.5" y="2389.7" width="37.5" height="399.6" fill="#0000ff" stroke="#00006a" stroke-width="1.3"/>
<rect x="1400" y="2386.4" width="37.5" height="402.9" fill="#ffffff" stroke="#606060" stroke-width="1.9"/>
<rect x="1437.5" y="2373.8" width="37.5" height="415.5" fill="#ff0000" stroke="#6a0000" stroke-width="1.3"/>
<rect x="1475" y="2387.7" width="37.5" height="401.6" fill="#0000ff" stroke="#00006a" stroke-width="1.3"/>
<rect x="1539.5" y="2371.4" width="37.5" height="417.9" fill="#ffffff" stroke="#606060" stroke-width="1.9"/>
<rect x="1577" y="2375.7" width="37.5" height="413.6" fill="#ff0000" stroke="#6a0000" stroke-width="1.3"/>
<rect x="1614.4" y="2381.7" width="37.5" height="407.6" fill="#0000ff" stroke="#00006a" stroke-width="1.3"/>
<path d="M1000.7 2378.4V2411.5M995 2378.4H1006.4M995 2411.5H1006.4M1037.8 2372.8V2379.1M1032.1 2372.8H1043.5M1032.1 2379.1H1043.5M1074.9 2379.4V2398.3M1069.2 2379.4H1080.6M1069.2 2398.3H1080.6M1140.2 2397.6V2418.2M1134.5 2397.6H1145.9M1134.5 2418.2H1145.9M1177.3 2377.4V2379.4M1171.6 2377.4H1183M1171.6 2379.4H1183M1214.4 2385.7V2408.2M1208.7 2385.7H1220.1M1208.7 2408.2H1220.1M1279.6 2379.4V2394M1273.9 2379.4H1285.3M1273.9 2394H1285.3M1316.7 2373.1V2385M1311 2373.1H1322.4M1311 2385H1322.4M1353.8 2383V2396M1348.1 2383H1359.5M1348.1 2396H1359.5M1419.1 2371.4V2400.6M1413.4 2371.4H1424.8M1413.4 2400.6H1424.8M1456.2 2372.8V2374.8M1450.5 2372.8H1461.9M1450.5 2374.8H1461.9M1493.3 2383V2391.7M1487.6 2383H1499M1487.6 2391.7H1499M1558.5 2368.8V2374.8M1552.8 2368.8H1564.2M1552.8 2374.8H1564.2M1595.6 2371.8V2379.4M1589.9 2371.8H1601.3M1589.9 2379.4H1601.3M1632.7 2375.1V2387.7M1627 2375.1H1638.4M1627 2387.7H1638.4" stroke="#000" stroke-width="3.2" fill="none"/>
<text transform="translate(1000 2373.1)" font-size="24.7" text-anchor="middle" stroke-width="0.15">ab</text>
<text transform="translate(1037.1 2366.8)" font-size="24.7" text-anchor="middle" stroke-width="0.15">a</text>
<text transform="translate(1074.6 2374.4)" font-size="24.7" text-anchor="middle" stroke-width="0.15">ab</text>
<text transform="translate(1139.9 2392.3)" font-size="24.7" text-anchor="middle" stroke-width="0.15">b</text>
<text transform="translate(1176.7 2371.7)" font-size="24.7" text-anchor="middle" stroke-width="0.15">a</text>
<text transform="translate(1213.8 2380)" font-size="24.7" text-anchor="middle" stroke-width="0.15">ab</text>
<text transform="translate(1279.1 2374.7)" font-size="24.7" text-anchor="middle" stroke-width="0.15">ab</text>
<text transform="translate(1316.6 2367.1)" font-size="24.7" text-anchor="middle" stroke-width="0.15">a</text>
<text transform="translate(1353.7 2377.7)" font-size="24.7" text-anchor="middle" stroke-width="0.15">ab</text>
<text transform="translate(1418.7 2365.8)" font-size="24.7" text-anchor="middle" stroke-width="0.15">ab</text>
<text transform="translate(1455.8 2366.1)" font-size="24.7" text-anchor="middle" stroke-width="0.15">a</text>
<text transform="translate(1493.3 2377.7)" font-size="24.7" text-anchor="middle" stroke-width="0.15">ab</text>
<text transform="translate(1558 2362.8)" font-size="24.7" text-anchor="middle" stroke-width="0.15">a</text>
<text transform="translate(1595.5 2365.8)" font-size="24.7" text-anchor="middle" stroke-width="0.15">a</text>
<text transform="translate(1632.6 2369.1)" font-size="24.7" text-anchor="middle" stroke-width="0.15">ab</text>
<path d="M967.7 2317.7V2789.3M958.2 2789.3H1666M958.2 2695.2H967.7M958.2 2601.1H967.7M958.2 2507H967.7M958.2 2412.9H967.7M958.2 2318.8H967.7M1037 2789.3v9.5M1176.7 2789.3v9.5M1316.4 2789.3v9.5M1456.1 2789.3v9.5M1595.8 2789.3v9.5" stroke="#424242" stroke-width="2.2" fill="none"/>
<path d="M1019.2 2789.3h37.5M1158.6 2789.3h37.5M1298 2789.3h37.5M1437.5 2789.3h37.5M1577 2789.3h37.5" stroke="#300000" stroke-width="2.2" fill="none"/>
<path d="M1056.6 2789.3h37.5M1196.1 2789.3h37.5M1335.5 2789.3h37.5M1475 2789.3h37.5M1614.4 2789.3h37.5" stroke="#000030" stroke-width="2.2" fill="none"/>
</g>
<g id="p50">
<rect x="156" y="3021.2" width="37.6" height="319.5" fill="#ffffff" stroke="#606060" stroke-width="1.9"/>
<rect x="193.6" y="2967.5" width="37.6" height="373.2" fill="#ff0000" stroke="#6a0000" stroke-width="1.3"/>
<rect x="231.2" y="3037.8" width="37.6" height="302.9" fill="#0000ff" stroke="#00006a" stroke-width="1.3"/>
<rect x="295.5" y="2979.1" width="37.6" height="361.6" fill="#ffffff" stroke="#b4b4b4" stroke-width="1.9"/>
<rect x="333.1" y="2931.4" width="37.6" height="409.3" fill="#ff0000" stroke="#6a0000" stroke-width="1.3"/>
<rect x="370.7" y="2996.4" width="37.6" height="344.3" fill="#0000ff" stroke="#00006a" stroke-width="1.3"/>
<rect x="435" y="2993.4" width="37.6" height="347.3" fill="#ffffff" stroke="#606060" stroke-width="1.9"/>
<rect x="472.6" y="2966.2" width="37.6" height="374.5" fill="#ff0000" stroke="#6a0000" stroke-width="1.3"/>
<rect x="510.2" y="2995" width="37.6" height="345.7" fill="#0000ff" stroke="#00006a" stroke-width="1.3"/>
<rect x="574.5" y="3011.3" width="37.6" height="329.4" fill="#ffffff" stroke="#606060" stroke-width="1.9"/>
<rect x="612.1" y="2946" width="37.6" height="394.7" fill="#ff0000" stroke="#6a0000" stroke-width="1.3"/>
<rect x="649.7" y="3012.9" width="37.6" height="327.8" fill="#0000ff" stroke="#00006a" stroke-width="1.3"/>
<rect x="714" y="2977.5" width="37.6" height="363.2" fill="#ffffff" stroke="#606060" stroke-width="1.9"/>
<rect x="751.6" y="2946.6" width="37.6" height="394.1" fill="#ff0000" stroke="#6a0000" stroke-width="1.3"/>
<rect x="789.2" y="2983.4" width="37.6" height="357.3" fill="#0000ff" stroke="#00006a" stroke-width="1.3"/>
<path d="M175.1 2978.8V3063.6M169.4 2978.8H180.8M169.4 3063.6H180.8M212.4 2948.3V2986.4M206.7 2948.3H218.1M206.7 2986.4H218.1M249.6 3017.6V3058.3M243.9 3017.6H255.3M243.9 3058.3H255.3M314.6 2958.6V2999.7M308.9 2958.6H320.3M308.9 2999.7H320.3M351.9 2912.8V2949.6M346.2 2912.8H357.6M346.2 2949.6H357.6M389.1 2988.7V3003.3M383.4 2988.7H394.8M383.4 3003.3H394.8M454.1 2974.8V3013.6M448.4 2974.8H459.8M448.4 3013.6H459.8M491.4 2942V2990.1M485.7 2942H497.1M485.7 2990.1H497.1M528.6 2975.5V3014.3M522.9 2975.5H534.3M522.9 3014.3H534.3M593.6 2978.1V3042.8M587.9 2978.1H599.3M587.9 3042.8H599.3M630.8 2938.7V2953.3M625.1 2938.7H636.5M625.1 2953.3H636.5M668.1 2997V3028.8M662.4 2997H673.8M662.4 3028.8H673.8M733.1 2956.9V2998.3M727.4 2956.9H738.8M727.4 2998.3H738.8M770.3 2931V2961.5M764.6 2931H776M764.6 2961.5H776M807.6 2969.2V2996.7M801.9 2969.2H813.3M801.9 2996.7H813.3" stroke="#000" stroke-width="3.2" fill="none"/>
<text transform="translate(174.8 2973.1)" font-size="24.7" text-anchor="middle" stroke-width="0.15">c</text>
<text transform="translate(212.3 2943)" font-size="24.7" text-anchor="middle" stroke-width="0.15">abc</text>
<text transform="translate(249.7 3011.6)" font-size="24.7" text-anchor="middle" stroke-width="0.15">c</text>
<text transform="translate(310.4 2952.6)" font-size="24.7" text-anchor="middle" stroke-width="0.15">abc</text>
<text transform="translate(351.8 2906.8)" font-size="24.7" text-anchor="middle" stroke-width="0.15">a</text>
<text transform="translate(393.3 2983.1)" font-size="24.7" text-anchor="middle" stroke-width="0.15">abc</text>
<text transform="translate(453.6 2969.8)" font-size="24.7" text-anchor="middle" stroke-width="0.15">abc</text>
<text transform="translate(491.9 2936)" font-size="24.7" text-anchor="middle" stroke-width="0.15">abc</text>
<text transform="translate(535.4 2970.1)" font-size="24.7" text-anchor="middle" stroke-width="0.15">abc</text>
<text transform="translate(593.7 2972.1)" font-size="24.7" text-anchor="middle" stroke-width="0.15">bc</text>
<text transform="translate(630.5 2933.3)" font-size="24.7" text-anchor="middle" stroke-width="0.15">ab</text>
<text transform="translate(667.6 2991.7)" font-size="24.7" text-anchor="middle" stroke-width="0.15">bc</text>
<text transform="translate(732.9 2952.2)" font-size="24.7" text-anchor="middle" stroke-width="0.15">abc</text>
<text transform="translate(770.1 2925.4)" font-size="24.7" text-anchor="middle" stroke-width="0.15">ab</text>
<text transform="translate(814.1 2963.8)" font-size="24.7" text-anchor="middle" stroke-width="0.15">abc</text>
<path d="M142.4 2869.6V3340.7M132.9 3340.7H841M132.9 3223.2H142.4M132.9 3105.7H142.4M132.9 2988.2H142.4M132.9 2870.7H142.4M212 3340.7v9.5M351.6 3340.7v9.5M491.2 3340.7v9.5M630.8 3340.7v9.5M770.4 3340.7v9.5" stroke="#424242" stroke-width="2.2" fill="none"/>
<path d="M193.6 3340.7h37.6M333.1 3340.7h37.6M472.6 3340.7h37.6M612.1 3340.7h37.6M751.6 3340.7h37.6" stroke="#300000" stroke-width="2.2" fill="none"/>
<path d="M231.2 3340.7h37.6M370.7 3340.7h37.6M510.2 3340.7h37.6M649.7 3340.7h37.6M789.2 3340.7h37.6" stroke="#000030" stroke-width="2.2" fill="none"/>
<text transform="translate(126.1 3350) scale(1 0.995)" font-size="31" text-anchor="end" stroke-width="0.15">0</text>
<text transform="translate(126.1 3232.5) scale(1 0.995)" font-size="31" text-anchor="end" stroke-width="0.15">20</text>
<text transform="translate(126.1 3115) scale(1 0.995)" font-size="31" text-anchor="end" stroke-width="0.15">40</text>
<text transform="translate(126.1 2997.5) scale(1 0.995)" font-size="31" text-anchor="end" stroke-width="0.15">60</text>
<text transform="translate(126.1 2880) scale(1 0.995)" font-size="31" text-anchor="end" stroke-width="0.15">80</text>
<text transform="translate(59.4 3105.1) rotate(-90) scale(1 1.037)" font-size="41" text-anchor="middle" stroke-width="0.15">NutE (kg kg−1)</text>
</g>
<g id="p51">
<rect x="981.7" y="3070.5" width="37.5" height="270.2" fill="#ffffff" stroke="#606060" stroke-width="1.9"/>
<rect x="1019.2" y="3078.5" width="37.5" height="262.2" fill="#ff0000" stroke="#6a0000" stroke-width="1.3"/>
<rect x="1056.6" y="3035" width="37.5" height="305.7" fill="#0000ff" stroke="#00006a" stroke-width="1.3"/>
<rect x="1121.2" y="3049.3" width="37.5" height="291.4" fill="#ffffff" stroke="#606060" stroke-width="1.9"/>
<rect x="1158.6" y="3018.8" width="37.5" height="321.9" fill="#ff0000" stroke="#6a0000" stroke-width="1.3"/>
<rect x="1196.1" y="3016.5" width="37.5" height="324.2" fill="#0000ff" stroke="#00006a" stroke-width="1.3"/>
<rect x="1260.6" y="3052.9" width="37.5" height="287.8" fill="#ffffff" stroke="#b4b4b4" stroke-width="1.9"/>
<rect x="1298" y="2993.3" width="37.5" height="347.4" fill="#ff0000" stroke="#6a0000" stroke-width="1.3"/>
<rect x="1335.5" y="2975.7" width="37.5" height="365" fill="#0000ff" stroke="#00006a" stroke-width="1.3"/>
<rect x="1400" y="3041" width="37.5" height="299.7" fill="#ffffff" stroke="#b4b4b4" stroke-width="1.9"/>
<rect x="1437.5" y="3033.4" width="37.5" height="307.3" fill="#ff0000" stroke="#6a0000" stroke-width="1.3"/>
<rect x="1475" y="3022.1" width="37.5" height="318.6" fill="#0000ff" stroke="#00006a" stroke-width="1.3"/>
<rect x="1539.5" y="3012.8" width="37.5" height="327.9" fill="#ffffff" stroke="#606060" stroke-width="1.9"/>
<rect x="1577" y="2996.9" width="37.5" height="343.8" fill="#ff0000" stroke="#6a0000" stroke-width="1.3"/>
<rect x="1614.4" y="2976" width="37.5" height="364.7" fill="#0000ff" stroke="#00006a" stroke-width="1.3"/>
<path d="M1000.7 3039.3V3100.7M995 3039.3H1006.4M995 3100.7H1006.4M1037.8 3063.9V3093M1032.1 3063.9H1043.5M1032.1 3093H1043.5M1074.9 3029.1V3041.3M1069.2 3029.1H1080.6M1069.2 3041.3H1080.6M1140.2 3015.8V3082.1M1134.5 3015.8H1145.9M1134.5 3082.1H1145.9M1177.3 2996.6V3041.7M1171.6 2996.6H1183M1171.6 3041.7H1183M1214.4 3005.9V3026.7M1208.7 3005.9H1220.1M1208.7 3026.7H1220.1M1279.6 3027.1V3078.1M1273.9 3027.1H1285.3M1273.9 3078.1H1285.3M1316.7 2976.4V3009.8M1311 2976.4H1322.4M1311 3009.8H1322.4M1353.8 2964.8V2986.3M1348.1 2964.8H1359.5M1348.1 2986.3H1359.5M1419.1 3025.1V3056.2M1413.4 3025.1H1424.8M1413.4 3056.2H1424.8M1456.2 3020.4V3046.3M1450.5 3020.4H1461.9M1450.5 3046.3H1461.9M1493.3 3009.5V3034.4M1487.6 3009.5H1499M1487.6 3034.4H1499M1558.5 3001.5V3024.4M1552.8 3001.5H1564.2M1552.8 3024.4H1564.2M1595.6 2986.6V3008.2M1589.9 2986.6H1601.3M1589.9 3008.2H1601.3M1632.7 2962.1V2990.6M1627 2962.1H1638.4M1627 2990.6H1638.4" stroke="#000" stroke-width="3.2" fill="none"/>
<text transform="translate(1000 3034)" font-size="24.7" text-anchor="middle" stroke-width="0.15">cd</text>
<text transform="translate(1037.1 3058.5)" font-size="24.7" text-anchor="middle" stroke-width="0.15">d</text>
<text transform="translate(1074.6 3023.7)" font-size="24.7" text-anchor="middle" stroke-width="0.15">abcd</text>
<text transform="translate(1139.9 3010.5)" font-size="24.7" text-anchor="middle" stroke-width="0.15">bcd</text>
<text transform="translate(1177 2981)" font-size="24.7" text-anchor="middle" stroke-width="0.15">abc</text>
<text transform="translate(1214.5 3000.2)" font-size="24.7" text-anchor="middle" stroke-width="0.15">abc</text>
<text transform="translate(1274.1 3021.4)" font-size="24.7" text-anchor="middle" stroke-width="0.15">bcd</text>
<text transform="translate(1316.6 2971.3)" font-size="24.7" text-anchor="middle" stroke-width="0.15">ab</text>
<text transform="translate(1353.7 2960.1)" font-size="24.7" text-anchor="middle" stroke-width="0.15">a</text>
<text transform="translate(1404.4 3019.4)" font-size="24.7" text-anchor="middle" stroke-width="0.15">bcd</text>
<text transform="translate(1455.8 3015.8)" font-size="24.7" text-anchor="middle" stroke-width="0.15">abcd</text>
<text transform="translate(1492.9 2985.6)" font-size="24.7" text-anchor="middle" stroke-width="0.15">abcd</text>
<text transform="translate(1558.3 2996.9)" font-size="24.7" text-anchor="middle" stroke-width="0.15">abc</text>
<text transform="translate(1595.5 2982)" font-size="24.7" text-anchor="middle" stroke-width="0.15">ab</text>
<text transform="translate(1632.6 2956.1)" font-size="24.7" text-anchor="middle" stroke-width="0.15">a</text>
<path d="M967.7 2869.6V3340.7M958.2 3340.7H1666M958.2 3223.2H967.7M958.2 3105.7H967.7M958.2 2988.2H967.7M958.2 2870.7H967.7M1037 3340.7v9.5M1176.7 3340.7v9.5M1316.4 3340.7v9.5M1456.1 3340.7v9.5M1595.8 3340.7v9.5" stroke="#424242" stroke-width="2.2" fill="none"/>
<path d="M1019.2 3340.7h37.5M1158.6 3340.7h37.5M1298 3340.7h37.5M1437.5 3340.7h37.5M1577 3340.7h37.5" stroke="#300000" stroke-width="2.2" fill="none"/>
<path d="M1056.6 3340.7h37.5M1196.1 3340.7h37.5M1335.5 3340.7h37.5M1475 3340.7h37.5M1614.4 3340.7h37.5" stroke="#000030" stroke-width="2.2" fill="none"/>
</g>
<g id="p60">
<rect x="156" y="3579.7" width="37.6" height="314.6" fill="#ffffff" stroke="#606060" stroke-width="1.9"/>
<rect x="193.6" y="3509.8" width="37.6" height="384.5" fill="#ff0000" stroke="#6a0000" stroke-width="1.3"/>
<rect x="231.2" y="3617.5" width="37.6" height="276.8" fill="#0000ff" stroke="#00006a" stroke-width="1.3"/>
<rect x="295.5" y="3633.8" width="37.6" height="260.5" fill="#ffffff" stroke="#606060" stroke-width="1.9"/>
<rect x="333.1" y="3631.8" width="37.6" height="262.5" fill="#ff0000" stroke="#6a0000" stroke-width="1.3"/>
<rect x="370.7" y="3639.7" width="37.6" height="254.6" fill="#0000ff" stroke="#00006a" stroke-width="1.3"/>
<rect x="435" y="3717.3" width="37.6" height="177" fill="#ffffff" stroke="#606060" stroke-width="1.9"/>
<rect x="472.6" y="3689.5" width="37.6" height="204.8" fill="#ff0000" stroke="#6a0000" stroke-width="1.3"/>
<rect x="510.2" y="3686.5" width="37.6" height="207.8" fill="#0000ff" stroke="#00006a" stroke-width="1.3"/>
<rect x="574.5" y="3765.1" width="37.6" height="129.2" fill="#ffffff" stroke="#606060" stroke-width="1.9"/>
<rect x="612.1" y="3737.9" width="37.6" height="156.4" fill="#ff0000" stroke="#6a0000" stroke-width="1.3"/>
<rect x="649.7" y="3746.9" width="37.6" height="147.4" fill="#0000ff" stroke="#00006a" stroke-width="1.3"/>
<rect x="714" y="3808.8" width="37.6" height="85.5" fill="#ffffff" stroke="#606060" stroke-width="1.9"/>
<rect x="751.6" y="3802.5" width="37.6" height="91.8" fill="#ff0000" stroke="#6a0000" stroke-width="1.3"/>
<rect x="789.2" y="3815.5" width="37.6" height="78.8" fill="#0000ff" stroke="#00006a" stroke-width="1.3"/>
<path d="M175.1 3576.1V3583.7M169.4 3576.1H180.8M169.4 3583.7H180.8M212.4 3508.8V3510.8M206.7 3508.8H218.1M206.7 3510.8H218.1M249.6 3603.6V3631.1M243.9 3603.6H255.3M243.9 3631.1H255.3M314.6 3628.1V3640.1M308.9 3628.1H320.3M308.9 3640.1H320.3M351.9 3613.5V3649M346.2 3613.5H357.6M346.2 3649H357.6M389.1 3627.1V3652M383.4 3627.1H394.8M383.4 3652H394.8M454.1 3708.7V3726.2M448.4 3708.7H459.8M448.4 3726.2H459.8M491.4 3684.9V3694.5M485.7 3684.9H497.1M485.7 3694.5H497.1M528.6 3684.2V3689.2M522.9 3684.2H534.3M522.9 3689.2H534.3M593.6 3752.2V3777M587.9 3752.2H599.3M587.9 3777H599.3M630.8 3732.3V3742.5M625.1 3732.3H636.5M625.1 3742.5H636.5M668.1 3741.2V3752.5M662.4 3741.2H673.8M662.4 3752.5H673.8M733.1 3802.2V3815.8M727.4 3802.2H738.8M727.4 3815.8H738.8M770.3 3800.6V3804.2M764.6 3800.6H776M764.6 3804.2H776M807.6 3808.2V3822.1M801.9 3808.2H813.3M801.9 3822.1H813.3" stroke="#000" stroke-width="3.2" fill="none"/>
<text transform="translate(174.8 3570.4)" font-size="24.7" text-anchor="middle" stroke-width="0.15">b</text>
<text transform="translate(211.9 3503.1)" font-size="24.7" text-anchor="middle" stroke-width="0.15">a</text>
<text transform="translate(249.7 3598.6)" font-size="24.7" text-anchor="middle" stroke-width="0.15">c</text>
<text transform="translate(314.7 3622.8)" font-size="24.7" text-anchor="middle" stroke-width="0.15">c</text>
<text transform="translate(351.8 3608.5)" font-size="24.7" text-anchor="middle" stroke-width="0.15">c</text>
<text transform="translate(388.6 3621.8)" font-size="24.7" text-anchor="middle" stroke-width="0.15">c</text>
<text transform="translate(453.6 3703.3)" font-size="24.7" text-anchor="middle" stroke-width="0.15">d</text>
<text transform="translate(490.9 3679.2)" font-size="24.7" text-anchor="middle" stroke-width="0.15">d</text>
<text transform="translate(528.4 3678.5)" font-size="24.7" text-anchor="middle" stroke-width="0.15">d</text>
<text transform="translate(593.7 3746.8)" font-size="24.7" text-anchor="middle" stroke-width="0.15">f</text>
<text transform="translate(631.2 3727.3)" font-size="24.7" text-anchor="middle" stroke-width="0.15">ef</text>
<text transform="translate(668 3735.9)" font-size="24.7" text-anchor="middle" stroke-width="0.15">f</text>
<text transform="translate(732.9 3797.2)" font-size="24.7" text-anchor="middle" stroke-width="0.15">g</text>
<text transform="translate(770.4 3795.5)" font-size="24.7" text-anchor="middle" stroke-width="0.15">g</text>
<text transform="translate(807.5 3801.5)" font-size="24.7" text-anchor="middle" stroke-width="0.15">g</text>
<path d="M142.4 3422.3V3894.3M132.9 3894.3H841M132.9 3737.2H142.4M132.9 3580.2H142.4M132.9 3423.4H142.4M212 3894.3v9.5M351.6 3894.3v9.5M491.2 3894.3v9.5M630.8 3894.3v9.5M770.4 3894.3v9.5" stroke="#424242" stroke-width="2.2" fill="none"/>
<path d="M193.6 3894.3h37.6M333.1 3894.3h37.6M472.6 3894.3h37.6M612.1 3894.3h37.6M751.6 3894.3h37.6" stroke="#300000" stroke-width="2.2" fill="none"/>
<path d="M231.2 3894.3h37.6M370.7 3894.3h37.6M510.2 3894.3h37.6M649.7 3894.3h37.6M789.2 3894.3h37.6" stroke="#000030" stroke-width="2.2" fill="none"/>
<text transform="translate(126.1 3903.6) scale(1 0.995)" font-size="31" text-anchor="end" stroke-width="0.15">0</text>
<text transform="translate(126.1 3746.5) scale(1 0.995)" font-size="31" text-anchor="end" stroke-width="0.15">20</text>
<text transform="translate(126.1 3589.5) scale(1 0.995)" font-size="31" text-anchor="end" stroke-width="0.15">40</text>
<text transform="translate(126.1 3432.7) scale(1 0.995)" font-size="31" text-anchor="end" stroke-width="0.15">60</text>
<text transform="translate(59.4 3658.3) rotate(-90) scale(1 1.037)" font-size="41" text-anchor="middle" stroke-width="0.15">PFP (kg kg−1)</text>
<text transform="translate(212.4 3935.3)" font-size="32.4" text-anchor="middle" stroke-width="0.15">NPK</text>
<text transform="translate(352 3935.3)" font-size="32.4" text-anchor="middle" stroke-width="0.15">25%M</text>
<text transform="translate(491.6 3935.3)" font-size="32.4" text-anchor="middle" stroke-width="0.15">50%M</text>
<text transform="translate(631.2 3935.3)" font-size="32.4" text-anchor="middle" stroke-width="0.15">75%M</text>
<text transform="translate(770.8 3935.3)" font-size="32.4" text-anchor="middle" stroke-width="0.15">100%M</text>
</g>
<g id="p61">
<rect x="981.7" y="3653" width="37.5" height="241.3" fill="#ffffff" stroke="#606060" stroke-width="1.9"/>
<rect x="1019.2" y="3520.7" width="37.5" height="373.6" fill="#ff0000" stroke="#6a0000" stroke-width="1.3"/>
<rect x="1056.6" y="3532.3" width="37.5" height="362" fill="#0000ff" stroke="#00006a" stroke-width="1.3"/>
<rect x="1121.2" y="3667.9" width="37.5" height="226.4" fill="#ffffff" stroke="#606060" stroke-width="1.9"/>
<rect x="1158.6" y="3609.2" width="37.5" height="285.1" fill="#ff0000" stroke="#6a0000" stroke-width="1.3"/>
<rect x="1196.1" y="3619.5" width="37.5" height="274.8" fill="#0000ff" stroke="#00006a" stroke-width="1.3"/>
<rect x="1260.6" y="3709.7" width="37.5" height="184.6" fill="#ffffff" stroke="#606060" stroke-width="1.9"/>
<rect x="1298" y="3710.7" width="37.5" height="183.6" fill="#ff0000" stroke="#6a0000" stroke-width="1.3"/>
<rect x="1335.5" y="3688.2" width="37.5" height="206.1" fill="#0000ff" stroke="#00006a" stroke-width="1.3"/>
<rect x="1400" y="3735.2" width="37.5" height="159.1" fill="#ffffff" stroke="#606060" stroke-width="1.9"/>
<rect x="1437.5" y="3737.2" width="37.5" height="157.1" fill="#ff0000" stroke="#6a0000" stroke-width="1.3"/>
<rect x="1475" y="3738.6" width="37.5" height="155.7" fill="#0000ff" stroke="#00006a" stroke-width="1.3"/>
<rect x="1539.5" y="3804.9" width="37.5" height="89.4" fill="#ffffff" stroke="#606060" stroke-width="1.9"/>
<rect x="1577" y="3804.2" width="37.5" height="90.1" fill="#ff0000" stroke="#6a0000" stroke-width="1.3"/>
<rect x="1614.4" y="3791.9" width="37.5" height="102.4" fill="#0000ff" stroke="#00006a" stroke-width="1.3"/>
<path d="M1000.7 3628.8V3679.5M995 3628.8H1006.4M995 3679.5H1006.4M1037.8 3491.5V3549.2M1032.1 3491.5H1043.5M1032.1 3549.2H1043.5M1074.9 3527.7V3537.3M1069.2 3527.7H1080.6M1069.2 3537.3H1080.6M1140.2 3644.7V3691.1M1134.5 3644.7H1145.9M1134.5 3691.1H1145.9M1177.3 3591V3627.5M1171.6 3591H1183M1171.6 3627.5H1183M1214.4 3612.9V3625.8M1208.7 3612.9H1220.1M1208.7 3625.8H1220.1M1279.6 3697.8V3721.3M1273.9 3697.8H1285.3M1273.9 3721.3H1285.3M1316.7 3696.5V3723.3M1311 3696.5H1322.4M1311 3723.3H1322.4M1353.8 3676.2V3699.4M1348.1 3676.2H1359.5M1348.1 3699.4H1359.5M1419.1 3721.7V3750.2M1413.4 3721.7H1424.8M1413.4 3750.2H1424.8M1456.2 3723.3V3749.8M1450.5 3723.3H1461.9M1450.5 3749.8H1461.9M1493.3 3730.9V3745.9M1487.6 3730.9H1499M1487.6 3745.9H1499M1558.5 3797.2V3812.5M1552.8 3797.2H1564.2M1552.8 3812.5H1564.2M1595.6 3795.6V3812.2M1589.9 3795.6H1601.3M1589.9 3812.2H1601.3M1632.7 3789.9V3792.6M1627 3789.9H1638.4M1627 3792.6H1638.4" stroke="#000" stroke-width="3.2" fill="none"/>
<text transform="translate(1000.7 3623.1)" font-size="24.7" text-anchor="middle" stroke-width="0.15">bc</text>
<text transform="translate(1036.8 3485.9)" font-size="24.7" text-anchor="middle" stroke-width="0.15">a</text>
<text transform="translate(1074.3 3522.7)" font-size="24.7" text-anchor="middle" stroke-width="0.15">a</text>
<text transform="translate(1139.2 3639.4)" font-size="24.7" text-anchor="middle" stroke-width="0.15">cd</text>
<text transform="translate(1177 3584.3)" font-size="24.7" text-anchor="middle" stroke-width="0.15">b</text>
<text transform="translate(1213.8 3607.2)" font-size="24.7" text-anchor="middle" stroke-width="0.15">b</text>
<text transform="translate(1279.1 3692.1)" font-size="24.7" text-anchor="middle" stroke-width="0.15">de</text>
<text transform="translate(1316.2 3691.1)" font-size="24.7" text-anchor="middle" stroke-width="0.15">de</text>
<text transform="translate(1353.7 3671.2)" font-size="24.7" text-anchor="middle" stroke-width="0.15">cde</text>
<text transform="translate(1418.7 3716)" font-size="24.7" text-anchor="middle" stroke-width="0.15">e</text>
<text transform="translate(1455.8 3718)" font-size="24.7" text-anchor="middle" stroke-width="0.15">e</text>
<text transform="translate(1492.9 3724.9)" font-size="24.7" text-anchor="middle" stroke-width="0.15">e</text>
<text transform="translate(1558.7 3792.2)" font-size="24.7" text-anchor="middle" stroke-width="0.15">f</text>
<text transform="translate(1595.8 3790.6)" font-size="24.7" text-anchor="middle" stroke-width="0.15">f</text>
<text transform="translate(1633.3 3784.6)" font-size="24.7" text-anchor="middle" stroke-width="0.15">f</text>
<path d="M967.7 3422.3V3894.3M958.2 3894.3H1666M958.2 3737.2H967.7M958.2 3580.2H967.7M958.2 3423.4H967.7M1037 3894.3v9.5M1176.7 3894.3v9.5M1316.4 3894.3v9.5M1456.1 3894.3v9.5M1595.8 3894.3v9.5" stroke="#424242" stroke-width="2.2" fill="none"/>
<path d="M1019.2 3894.3h37.5M1158.6 3894.3h37.5M1298 3894.3h37.5M1437.5 3894.3h37.5M1577 3894.3h37.5" stroke="#300000" stroke-width="2.2" fill="none"/>
<path d="M1056.6 3894.3h37.5M1196.1 3894.3h37.5M1335.5 3894.3h37.5M1475 3894.3h37.5M1614.4 3894.3h37.5" stroke="#000030" stroke-width="2.2" fill="none"/>
<text transform="translate(1037.4 3934.7)" font-size="32.4" text-anchor="middle" stroke-width="0.15">NPK</text>
<text transform="translate(1177.1 3934.7)" font-size="32.4" text-anchor="middle" stroke-width="0.15">25%M</text>
<text transform="translate(1316.8 3934.7)" font-size="32.4" text-anchor="middle" stroke-width="0.15">50%M</text>
<text transform="translate(1456.5 3934.7)" font-size="32.4" text-anchor="middle" stroke-width="0.15">75%M</text>
<text transform="translate(1596.2 3934.7)" font-size="32.4" text-anchor="middle" stroke-width="0.15">100%M</text>
</g>
<text transform="translate(511 54) scale(1 1.03)" font-size="41" text-anchor="middle" stroke-width="0.15">Season 1</text>
<text transform="translate(1347.7 53.5) scale(1 1.03)" font-size="41" text-anchor="middle" stroke-width="0.15">Season 2</text>
<text transform="translate(491.5 3996.4) scale(1 1.026)" font-size="40.85" text-anchor="middle" stroke-width="0.15">Treatments</text>
<text transform="translate(1355.6 3997.6) scale(1 1.026)" font-size="40.85" text-anchor="middle" stroke-width="0.15">Treatments</text>
<rect x="549.5" y="105.3" width="53.5" height="25.3" fill="#ffffff" stroke="#8a8a8a" stroke-width="1.9"/>
<text transform="translate(610.5 127)" font-size="25.2" stroke-width="0.15">Zhongmai 578</text>
<rect x="549.5" y="136.3" width="53.5" height="25.3" fill="#ff0000" stroke="#7a3030" stroke-width="1.2"/>
<text transform="translate(610.5 157.6)" font-size="25.2" stroke-width="0.15">Weilong 169</text>
<rect x="549.5" y="167.0" width="53.5" height="25.3" fill="#0000ff" stroke="#30307a" stroke-width="1.2"/>
<text transform="translate(610.5 188.3)" font-size="25.2" stroke-width="0.15">Xiaoyan 22</text>
</g>
</svg>
</body></html>
